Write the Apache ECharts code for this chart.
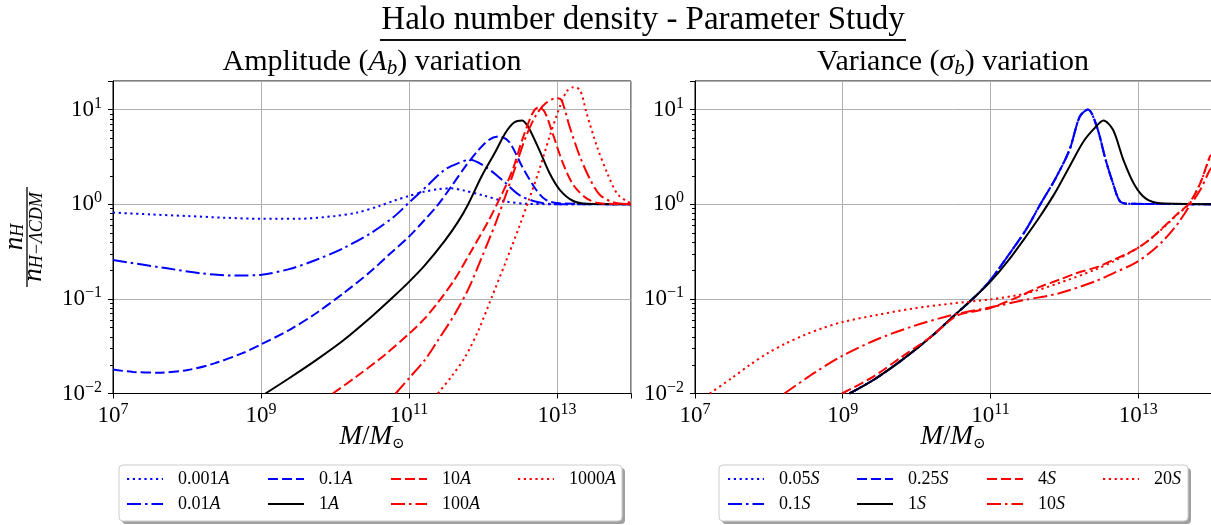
<!DOCTYPE html>
<html>
<head>
<meta charset="utf-8">
<script src="https://cdn.jsdelivr.net/npm/echarts@6/dist/echarts.min.js"></script>
<style>html,body{margin:0;padding:0;background:#fff}#c{width:1211px;height:525px}</style>
</head>
<body>
<div id="c"></div>
<script>
// ---- data: exponents e = log10(M/Msun), values r = n_H / n_H-LCDM ----
// Left panel: amplitude variation
const A0001_e = [7, 7.5, 8, 8.5, 9, 9.5, 10, 10.3, 10.6, 10.8, 11.0, 11.2, 11.4, 11.57, 11.75, 12.0, 12.3, 12.6, 13.0, 14.0];
const A0001_r = [0.815, 0.78, 0.75, 0.72, 0.70, 0.70, 0.75, 0.815, 0.957, 1.09, 1.22, 1.35, 1.44, 1.47, 1.39, 1.24, 1.07, 1.01, 1.0, 1.0];
const A001_e = [7, 7.73, 8.19, 8.65, 9.01, 9.38, 9.74, 10.11, 10.48, 10.80, 11.0, 11.21, 11.48, 11.66, 11.82, 12.03, 12.26, 12.49, 12.72, 13.0, 14.0];
const A001_r = [0.257, 0.21, 0.186, 0.176, 0.18, 0.206, 0.257, 0.342, 0.492, 0.74, 1.04, 1.47, 2.30, 2.70, 2.94, 2.49, 1.80, 1.25, 1.06, 1.0, 1.0];
const A01_e = [7, 7.27, 7.64, 8.01, 8.37, 8.74, 9.01, 9.38, 9.74, 10.11, 10.48, 10.75, 11.0, 11.21, 11.39, 11.57, 11.76, 11.94, 12.08, 12.21, 12.35, 12.53, 12.72, 12.85, 13.04, 14.0];
const A01_r = [0.0179, 0.0169, 0.0166, 0.0177, 0.0208, 0.0265, 0.0333, 0.0468, 0.070, 0.114, 0.194, 0.303, 0.454, 0.68, 0.98, 1.53, 2.49, 3.74, 4.78, 5.18, 4.59, 2.49, 1.41, 1.11, 1.02, 1.0];
const A1_e = [9.06, 9.38, 9.74, 10.11, 10.52, 10.80, 11.0, 11.21, 11.48, 11.66, 11.80, 11.98, 12.17, 12.30, 12.42, 12.53, 12.62, 12.76, 12.90, 13.04, 13.22, 13.40, 14.0];
const A1_r = [0.01, 0.0145, 0.0224, 0.0363, 0.0676, 0.107, 0.151, 0.224, 0.407, 0.646, 1.0, 1.96, 3.60, 5.62, 7.29, 7.66, 6.35, 3.75, 2.12, 1.41, 1.08, 1.01, 1.0];
const A10_e = [9.97, 10.29, 10.66, 11.0, 11.21, 11.39, 11.62, 11.85, 12.08, 12.26, 12.40, 12.53, 12.67, 12.75, 12.83, 12.94, 13.08, 13.22, 13.40, 13.58, 14.0];
const A10_r = [0.01, 0.0151, 0.0251, 0.0427, 0.0617, 0.0912, 0.162, 0.328, 0.68, 1.30, 2.30, 4.78, 9.14, 10.6, 9.53, 5.62, 2.71, 1.60, 1.15, 1.02, 1.0];
const A100_e = [10.82, 11.0, 11.21, 11.39, 11.62, 11.80, 11.98, 12.17, 12.30, 12.44, 12.58, 12.72, 12.85, 12.99, 13.06, 13.17, 13.31, 13.45, 13.58, 13.77, 14.0];
const A100_r = [0.01, 0.0145, 0.0224, 0.0363, 0.0692, 0.126, 0.27, 0.628, 1.20, 2.49, 5.18, 8.79, 11.7, 13.2, 12.6, 6.61, 3.18, 1.81, 1.25, 1.04, 1.0];
const A1000_e = [11.39, 11.57, 11.76, 11.94, 12.12, 12.30, 12.49, 12.62, 12.76, 12.90, 13.04, 13.13, 13.22, 13.31, 13.40, 13.54, 13.68, 13.81, 13.95, 14.0];
const A1000_r = [0.01, 0.0150, 0.0244, 0.0468, 0.105, 0.237, 0.58, 1.11, 2.30, 5.18, 10.8, 15.5, 17.2, 16.1, 9.14, 4.06, 2.12, 1.30, 1.06, 1.03];

// Right panel: variance variation
const S005_e = [9.09, 9.41, 9.80, 10.20, 10.54, 10.79, 11.0, 11.23, 11.48, 11.67, 11.87, 12.07, 12.21, 12.32, 12.44, 12.56, 12.66, 12.76, 12.90, 14.0];
const S005_r = [0.01, 0.0138, 0.0225, 0.040, 0.070, 0.105, 0.158, 0.279, 0.535, 0.98, 1.80, 3.74, 8.43, 10.0, 6.61, 2.94, 1.66, 1.06, 1.01, 1.0];
const S01_e = [9.09, 9.41, 9.80, 10.20, 10.54, 10.79, 11.0, 11.23, 11.48, 11.67, 11.87, 12.07, 12.21, 12.32, 12.44, 12.56, 12.66, 12.76, 12.90, 14.0];
const S01_r = [0.01, 0.0138, 0.0225, 0.040, 0.070, 0.105, 0.158, 0.279, 0.535, 0.98, 1.80, 3.74, 8.43, 10.0, 6.61, 2.94, 1.66, 1.06, 1.01, 1.0];
const S025_e = [9.09, 9.41, 9.80, 10.20, 10.54, 10.79, 11.0, 11.23, 11.48, 11.67, 11.87, 12.07, 12.21, 12.32, 12.44, 12.56, 12.66, 12.76, 12.90, 14.0];
const S025_r = [0.01, 0.0138, 0.0225, 0.040, 0.070, 0.105, 0.158, 0.279, 0.535, 0.98, 1.80, 3.74, 8.43, 10.0, 6.61, 2.94, 1.66, 1.06, 1.01, 1.0];
const S1_e = [9.09, 9.41, 9.80, 10.20, 10.54, 10.79, 11.0, 11.23, 11.48, 11.67, 11.87, 12.07, 12.26, 12.41, 12.53, 12.66, 12.80, 12.95, 13.10, 13.30, 14.0];
const S1_r = [0.01, 0.0138, 0.0225, 0.040, 0.070, 0.105, 0.152, 0.247, 0.454, 0.74, 1.30, 2.49, 4.59, 6.35, 7.66, 6.10, 2.94, 1.60, 1.15, 1.02, 1.0];
const S4_e = [8.99, 9.41, 9.80, 10.20, 10.54, 10.79, 11.0, 11.2, 11.38, 11.67, 11.92, 12.16, 12.46, 12.66, 12.95, 13.15, 13.35, 13.54, 13.69, 13.84, 13.97, 14.0];
const S4_r = [0.01, 0.0150, 0.0244, 0.040, 0.066, 0.074, 0.080, 0.092, 0.105, 0.134, 0.158, 0.186, 0.219, 0.257, 0.328, 0.419, 0.58, 0.80, 1.02, 1.66, 3.18, 3.35];
const S10_e = [8.21, 8.62, 9.0, 9.46, 9.95, 10.49, 11.0, 11.48, 11.92, 12.41, 12.66, 12.95, 13.15, 13.35, 13.54, 13.69, 13.84, 13.97, 14.0];
const S10_r = [0.01, 0.0166, 0.0251, 0.0372, 0.0513, 0.0676, 0.0813, 0.0977, 0.114, 0.152, 0.186, 0.237, 0.303, 0.419, 0.628, 0.94, 1.41, 2.30, 2.45];
const S20_e = [7.20, 7.49, 7.74, 7.98, 8.23, 8.48, 8.72, 9.0, 9.46, 9.95, 10.49, 11.0, 11.48, 11.92, 12.41, 12.66, 12.95, 13.15, 13.35, 13.54, 13.69, 13.84, 13.97, 14.0];
const S20_r = [0.01, 0.0144, 0.020, 0.0265, 0.0338, 0.0414, 0.0488, 0.057, 0.0675, 0.079, 0.0895, 0.0986, 0.114, 0.146, 0.202, 0.247, 0.328, 0.419, 0.57, 0.79, 1.0, 1.66, 3.1, 3.3];

// axes
const X_MIN_EXP = 7, X_MAX_EXP = 14, X_TICK_STEP = 2;
const Y_MIN = 0.01, Y_MAX = 20;

// legend columns (column-major like the reference)
const legendLeftCols = [['0.001A', '0.01A'], ['0.1A', '1A'], ['10A', '100A'], ['1000A']];
const legendRightCols = [['0.05S', '0.1S'], ['0.25S', '1S'], ['4S', '10S'], ['20S']];

// ---- styles ----
const FONT = 'Liberation Serif';
const BLUE = '#0000ff', RED = '#ff0000', BLACK = '#000000';
const DOT = [2.2, 3.6], DASH = [10, 4], DASHDOT = [14, 4, 2.5, 4];
const LW = 2;

function pts(e, r) { return e.map((v, i) => [Math.pow(10, v), r[i]]); }

function line(name, e, r, color, dash, gi) {
  return {
    name, type: 'line', xAxisIndex: gi, yAxisIndex: gi,
    data: pts(e, r), symbol: 'none', showSymbol: false, smooth: 0.3,
    lineStyle: { color, width: LW, type: dash, cap: 'butt' },
    itemStyle: { color }, emphasis: { disabled: true }, silent: true
  };
}

const minorVals = [];
for (let k = -2; k <= 1; k++) for (let m = 2; m <= 9; m++) { const v = m * Math.pow(10, k); if (v <= Y_MAX + 1e-9) minorVals.push(v); }

function minorTicks(gi) {
  return {
    type: 'custom', xAxisIndex: gi, yAxisIndex: gi, silent: true, clip: false,
    data: minorVals.map(v => [Math.pow(10, 10), v]),
    renderItem: (params, api) => {
      const y = Math.round(api.coord([api.value(0), api.value(1)])[1]) + 0.5;
      const x = params.coordSys.x;
      return { type: 'line', shape: { x1: x - 3, y1: y, x2: x, y2: y }, style: { stroke: '#000', lineWidth: 1 } };
    }
  };
}

const tickRich = {
  b: { fontFamily: FONT, fontSize: 23, lineHeight: 28, color: '#000' },
  s: { fontFamily: FONT, fontSize: 16, lineHeight: 16, verticalAlign: 'top', color: '#000' }
};
function supText(e) { return '{b|10}{s|' + (e < 0 ? '\u2212' + (-e) : e) + '}'; }
function yLabel(v) {
  const l = Math.log10(v), e = Math.round(l);
  if (Math.abs(l - e) > 1e-6) return '';
  return supText(e);
}
function xLabel(v) {
  const l = Math.log10(v), e = Math.round(l);
  if (Math.abs(l - e) > 1e-6) return '';
  if ((e - X_MIN_EXP) % X_TICK_STEP !== 0 || e >= X_MAX_EXP) return '';
  return supText(e);
}

const grids = [
  { left: 113, top: 81, width: 518, height: 312.5 },
  { left: 695, top: 81, width: 517, height: 312.5 }
].map(g => Object.assign(g, { show: true, borderColor: '#000', borderWidth: 1, backgroundColor: 'transparent', containLabel: false, outerBoundsMode: 'none' }));

function xAxis(gi) {
  return {
    type: 'log', logBase: 10, gridIndex: gi,
    min: Math.pow(10, X_MIN_EXP), max: Math.pow(10, X_MAX_EXP), interval: X_TICK_STEP,
    axisLine: { show: true, lineStyle: { color: '#000', width: 1 } },
    axisTick: { show: true, inside: false, length: 5, lineStyle: { color: '#000', width: 1 } },
    minorTick: { show: false },
    axisLabel: { formatter: xLabel, margin: 8, rich: tickRich, showMinLabel: true, showMaxLabel: true, hideOverlap: false },
    splitLine: { show: true, lineStyle: { color: '#b0b0b0', width: 1 } }
  };
}
function yAxis(gi) {
  return {
    type: 'log', logBase: 10, gridIndex: gi, min: Y_MIN, max: Y_MAX,
    axisLine: { show: true, lineStyle: { color: '#000', width: 1 } },
    axisTick: { show: true, inside: false, length: 5, lineStyle: { color: '#000', width: 1 } },
    axisLabel: { formatter: yLabel, margin: 11, rich: tickRich, hideOverlap: false },
    splitLine: { show: true, lineStyle: { color: '#b0b0b0', width: 1 } }
  };
}

const legRich = {
  g: { width: 10 },
  n: { fontFamily: FONT, fontSize: 18, lineHeight: 18, color: '#000' },
  i: { fontFamily: FONT, fontStyle: 'italic', fontSize: 18, lineHeight: 18, color: '#000' }
};
function legends(cols, lefts) {
  return cols.map((c, k) => ({
    data: c, left: lefts[k], top: 470, orient: 'vertical', padding: 0,
    itemWidth: 36, itemHeight: 14, itemGap: 7, selectedMode: false, z: 10,
    itemStyle: { opacity: 0, color: 'rgba(0,0,0,0)', borderWidth: 0 },
    formatter: n => '{g|}{n|' + n.slice(0, -1) + '}{i|' + n.slice(-1) + '}',
    textStyle: { rich: legRich, fontFamily: FONT, fontSize: 18 }
  }));
}

const series = [
  line('0.001A', A0001_e, A0001_r, BLUE, DOT, 0),
  line('0.01A', A001_e, A001_r, BLUE, DASHDOT, 0),
  line('0.1A', A01_e, A01_r, BLUE, DASH, 0),
  line('1A', A1_e, A1_r, BLACK, 'solid', 0),
  line('10A', A10_e, A10_r, RED, DASH, 0),
  line('100A', A100_e, A100_r, RED, DASHDOT, 0),
  line('1000A', A1000_e, A1000_r, RED, DOT, 0),
  line('0.05S', S005_e, S005_r, BLUE, DOT, 1),
  line('0.1S', S01_e, S01_r, BLUE, DASHDOT, 1),
  line('0.25S', S025_e, S025_r, BLUE, DASH, 1),
  line('1S', S1_e, S1_r, BLACK, 'solid', 1),
  line('4S', S4_e, S4_r, RED, DASH, 1),
  line('10S', S10_e, S10_r, RED, DASHDOT, 1),
  line('20S', S20_e, S20_r, RED, DOT, 1),
  minorTicks(0), minorTicks(1)
];

const titleRich = {
  r: { fontFamily: FONT, fontSize: 30, lineHeight: 34, color: '#000' },
  i: { fontFamily: FONT, fontStyle: 'italic', fontSize: 30, lineHeight: 34, color: '#000' },
  sub: { fontFamily: FONT, fontStyle: 'italic', fontSize: 21, lineHeight: 20, verticalAlign: 'bottom', color: '#000' }
};
const nameRich = {
  i: { fontFamily: FONT, fontStyle: 'italic', fontSize: 27, lineHeight: 30, color: '#000' },
  r: { fontFamily: FONT, fontSize: 27, lineHeight: 30, color: '#000' },
  sub: { fontFamily: 'DejaVu Serif', fontSize: 15, lineHeight: 16, verticalAlign: 'bottom', color: '#000' }
};
const fracRich = {
  i: { fontFamily: FONT, fontStyle: 'italic', fontSize: 27, lineHeight: 24, color: '#000' },
  sub: { fontFamily: FONT, fontStyle: 'italic', fontSize: 18, lineHeight: 14, verticalAlign: 'bottom', color: '#000' }
};

const graphic = [
  { type: 'text', x: 643, y: 20, z: 5, style: { text: 'Halo number density - Parameter Study', fontFamily: FONT, fontSize: 33, fill: '#000', align: 'center', verticalAlign: 'middle' } },
  { type: 'line', z: 5, shape: { x1: 380, y1: 40, x2: 906, y2: 40 }, style: { stroke: '#111', lineWidth: 1.8 } },
  { type: 'text', x: 372, y: 62, z: 5, style: { text: '{r|Amplitude (}{i|A}{sub|b}{r|) variation}', rich: titleRich, align: 'center', verticalAlign: 'middle' } },
  { type: 'text', x: 953, y: 62, z: 5, style: { text: '{r|Variance (}{i|\u03c3}{sub|b}{r|) variation}', rich: titleRich, align: 'center', verticalAlign: 'middle' } },
  { type: 'text', x: 372, y: 437, z: 5, style: { text: '{i|M}{r|/}{i|M}{sub|\u2299}', rich: nameRich, align: 'center', verticalAlign: 'middle' } },
  { type: 'text', x: 953, y: 437, z: 5, style: { text: '{i|M}{r|/}{i|M}{sub|\u2299}', rich: nameRich, align: 'center', verticalAlign: 'middle' } },
  { type: 'group', x: 27, y: 237, rotation: Math.PI / 2, z: 5, children: [
    { type: 'line', shape: { x1: -50, y1: 0, x2: 50, y2: 0 }, style: { stroke: '#000', lineWidth: 1.3 } },
    { type: 'text', x: 0, y: -12, style: { text: '{i|n}{sub|H}', rich: fracRich, align: 'center', verticalAlign: 'middle' } },
    { type: 'text', x: 0, y: 7, style: { text: '{i|n}{sub|H\u2212\u039bCDM}', rich: fracRich, align: 'center', verticalAlign: 'middle' } }
  ] },
  // legend frames with shadow
  { type: 'rect', z: 1, shape: { x: 122, y: 468, width: 503, height: 56, r: 4 }, style: { fill: '#a0a0a0' } },
  { type: 'rect', z: 2, shape: { x: 119, y: 465, width: 503, height: 56, r: 4 }, style: { fill: '#fff', stroke: '#cccccc', lineWidth: 1 } },
  { type: 'rect', z: 1, shape: { x: 722, y: 468, width: 469, height: 56, r: 4 }, style: { fill: '#a0a0a0' } },
  { type: 'rect', z: 2, shape: { x: 719, y: 465, width: 469, height: 56, r: 4 }, style: { fill: '#fff', stroke: '#cccccc', lineWidth: 1 } }
];

const chart = echarts.init(document.getElementById('c'), null, { renderer: 'canvas' });
chart.setOption({
  animation: false,
  backgroundColor: '#fff',
  grid: grids,
  xAxis: [xAxis(0), xAxis(1)],
  yAxis: [yAxis(0), yAxis(1)],
  legend: legends(legendLeftCols, [126, 267, 390, 517]).concat(legends(legendRightCols, [727, 856, 986, 1102])),
  graphic: graphic,
  series: series
});
</script>
</body>
</html>
